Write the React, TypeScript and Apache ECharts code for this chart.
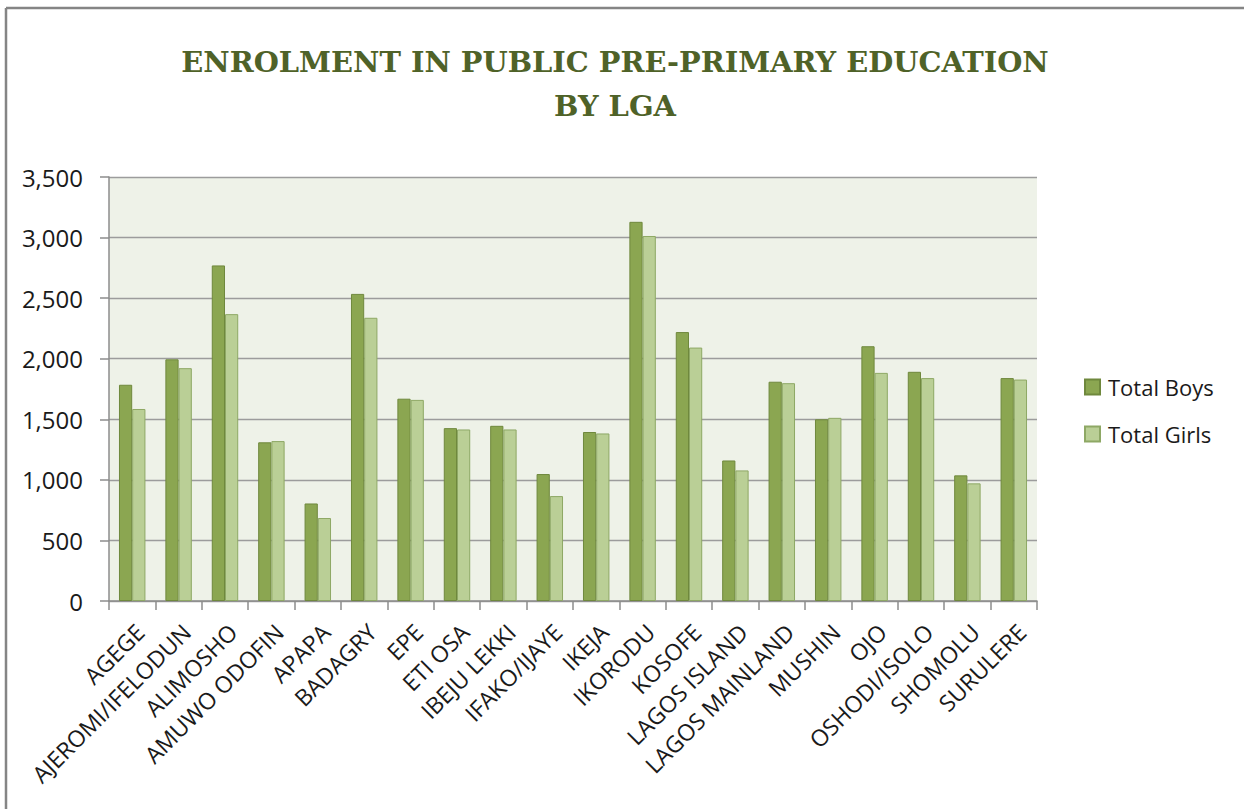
import React, { useEffect, useRef } from "react";
import * as echarts from "echarts";

const categories = [
  "AGEGE",
  "AJEROMI/IFELODUN",
  "ALIMOSHO",
  "AMUWO ODOFIN",
  "APAPA",
  "BADAGRY",
  "EPE",
  "ETI OSA",
  "IBEJU LEKKI",
  "IFAKO/IJAYE",
  "IKEJA",
  "IKORODU",
  "KOSOFE",
  "LAGOS ISLAND",
  "LAGOS MAINLAND",
  "MUSHIN",
  "OJO",
  "OSHODI/ISOLO",
  "SHOMOLU",
  "SURULERE",
];

const totalBoys = [
  1785, 1995, 2770, 1310, 805, 2535, 1670, 1427, 1446, 1048, 1395, 3130, 2220,
  1160, 1810, 1500, 2103, 1892, 1037, 1840,
];

const totalGirls = [
  1585, 1922, 2368, 1320, 685, 2338, 1660, 1416, 1416, 866, 1383, 3013, 2092,
  1078, 1798, 1512, 1883, 1840, 971, 1828,
];

const seriesNames = ["Total Boys", "Total Girls"];
const titleLines = ["ENROLMENT IN PUBLIC PRE-PRIMARY EDUCATION", "BY LGA"];

const TITLE_FONT = 'bold 28px "DejaVu Serif"';

function measure(text: string, font: string): number {
  const c = document.createElement("canvas").getContext("2d");
  if (!c) return 1;
  c.font = font;
  return c.measureText(text).width || 1;
}

export default function App() {
  const ref = useRef<HTMLDivElement | null>(null);

  useEffect(() => {
    if (!ref.current) return;
    const chart = echarts.init(ref.current, undefined, { renderer: "svg" });

    const s1 = 868 / measure(titleLines[0], TITLE_FONT);
    const s2 = 122 / measure(titleLines[1], TITLE_FONT);

    const option: any = {
      animation: false,
      backgroundColor: "#ffffff",
      graphic: [
        {
          type: "line",
          shape: { x1: 6, y1: 8, x2: 1244, y2: 8 },
          style: { stroke: "#858585", lineWidth: 2.5 },
        },
        {
          type: "line",
          shape: { x1: 6, y1: 8, x2: 6, y2: 809 },
          style: { stroke: "#858585", lineWidth: 2.5 },
        },
        {
          type: "text",
          x: 615,
          y: 62,
          scaleX: s1,
          style: {
            text: titleLines[0],
            font: TITLE_FONT,
            fill: "#4F6228",
            align: "center",
            verticalAlign: "middle",
          },
        },
        {
          type: "text",
          x: 615,
          y: 106,
          scaleX: s2,
          style: {
            text: titleLines[1],
            font: TITLE_FONT,
            fill: "#4F6228",
            align: "center",
            verticalAlign: "middle",
          },
        },
      ],
      legend: {
        orient: "vertical",
        left: 1079,
        top: 371,
        itemWidth: 15,
        itemHeight: 15,
        itemGap: 25,
        icon: "rect",
        data: seriesNames,
        textStyle: {
          fontFamily: "Open Sans",
          fontSize: 22,
          lineHeight: 22,
          color: "#1a1a1a",
          padding: [0, 0, 0, 3],
        },
      },
      grid: {
        left: 109,
        right: 207,
        top: 177,
        bottom: 208,
        show: true,
        backgroundColor: "#EEF2E8",
        borderWidth: 0,
      },
      xAxis: {
        type: "category",
        data: categories,
        axisLine: { show: true, lineStyle: { color: "#8c8c8c", width: 1.5 } },
        axisTick: {
          show: true,
          interval: 0,
          length: 9,
          lineStyle: { color: "#8c8c8c", width: 1.5 },
        },
        axisLabel: {
          interval: 0,
          rotate: 45,
          margin: 19,
          verticalAlign: "top",
          lineHeight: 22,
          fontFamily: "Open Sans",
          fontSize: 23,
          color: "#1a1a1a",
        },
        splitLine: { show: false },
      },
      yAxis: {
        type: "value",
        min: 0,
        max: 3500,
        interval: 500,
        axisLine: { show: true, lineStyle: { color: "#8c8c8c", width: 1.5 } },
        axisTick: {
          show: true,
          length: 9,
          lineStyle: { color: "#8c8c8c", width: 1.5 },
        },
        axisLabel: {
          margin: 26,
          fontFamily: "Open Sans",
          fontSize: 24,
          color: "#1a1a1a",
          formatter: (v: number) => v.toLocaleString("en-US"),
        },
        splitLine: { show: true, lineStyle: { color: "#9c9c9c", width: 1.3 } },
      },
      series: [
        {
          name: seriesNames[0],
          type: "bar",
          data: totalBoys,
          barGap: "0%",
          barCategoryGap: "43%",
          itemStyle: { color: "#8BA651", borderColor: "#6F883D", borderWidth: 1 },
        },
        {
          name: seriesNames[1],
          type: "bar",
          data: totalGirls,
          barGap: "0%",
          barCategoryGap: "43%",
          itemStyle: { color: "#BACF96", borderColor: "#8EA865", borderWidth: 1 },
        },
      ],
    };

    chart.setOption(option);
    return () => chart.dispose();
  }, []);

  return (
    <div
      ref={ref}
      style={{ position: "fixed", left: 0, top: 0, width: 1244, height: 809 }}
    />
  );
}
